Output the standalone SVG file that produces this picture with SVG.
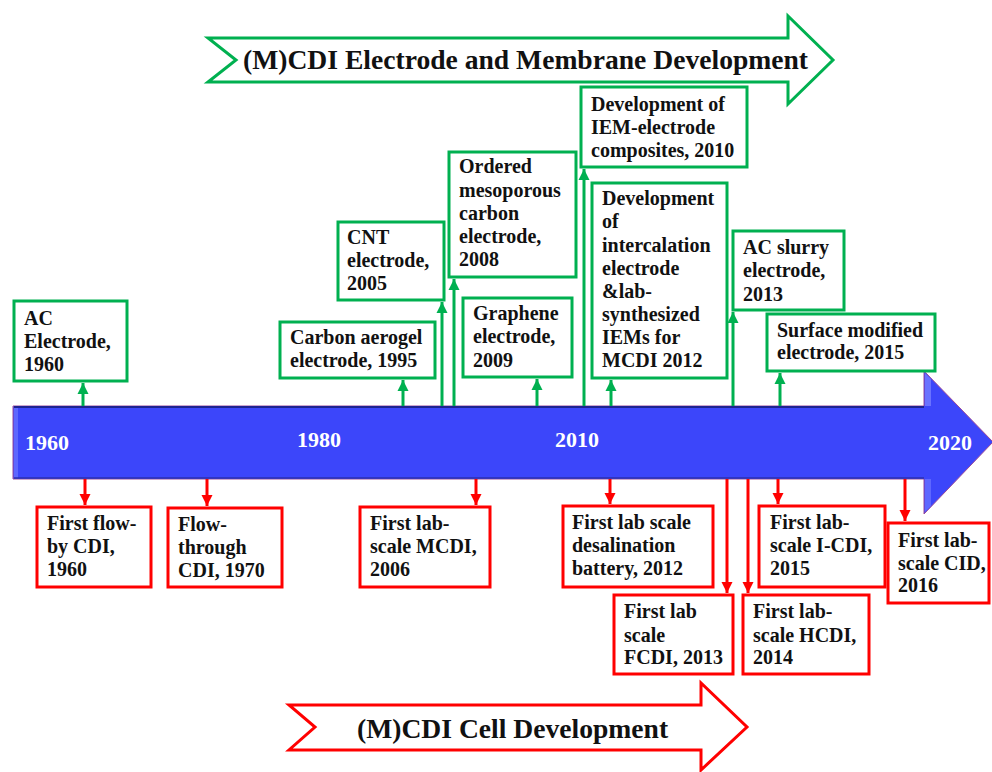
<svg xmlns="http://www.w3.org/2000/svg" width="992" height="772" viewBox="0 0 992 772">
<defs>
<style>
.t{font-family:"Liberation Serif","Times New Roman",serif;font-weight:bold;font-size:20px;fill:#111}
.yr{font-family:"Liberation Serif","Times New Roman",serif;font-weight:bold;font-size:22px;fill:#fff}
.ban{font-family:"Liberation Serif","Times New Roman",serif;font-weight:bold;font-size:27.6px;fill:#111}
.gb{fill:#fff;stroke:#00B050;stroke-width:3}
.rb{fill:#fff;stroke:#FF0000;stroke-width:3}
.gl{stroke:#00B050;stroke-width:3;fill:none;marker-end:url(#ga)}
.rl{stroke:#FF0000;stroke-width:3;fill:none;marker-end:url(#ra)}
</style>
<marker id="ga" markerUnits="userSpaceOnUse" markerWidth="12" markerHeight="12" refX="11" refY="6" orient="auto" viewBox="0 0 12 12"><path d="M0,0.5 L11,6 L0,11.5 z" fill="#00B050"/></marker>
<marker id="ra" markerUnits="userSpaceOnUse" markerWidth="12" markerHeight="12" refX="11" refY="6" orient="auto" viewBox="0 0 12 12"><path d="M0,0.5 L11,6 L0,11.5 z" fill="#FF0000"/></marker>
</defs>
<rect width="992" height="772" fill="#fff"/>

<g id="banner-top">
<polygon points="208,38 788,38 788,16 833,60 788,104 788,82 208,82 236,60" fill="#fff" stroke="#00B050" stroke-width="3"/>
<text class="ban" x="243" y="69">(M)CDI Electrode and Membrane Development</text>
</g>

<g id="banner-bottom">
<polygon points="289,705 701,705 701,683 747,727 701,770 701,750 289,750 315,727" fill="#fff" stroke="#FF0000" stroke-width="3"/>
<text class="ban" x="357" y="738">(M)CDI Cell Development</text>
</g>

<g id="timeline">
<polygon points="13,406 924,406 924,371 993,442 924,514 924,479 13,479" fill="#3C46FA" stroke="#9A4A9A" stroke-width="1"/>
<rect x="14" y="407" width="4" height="71" fill="#5E67FF"/>
<line x1="14" y1="407" x2="924" y2="407" stroke="#1E2490" stroke-width="2"/>
<line x1="14" y1="478" x2="924" y2="478" stroke="#2A30B0" stroke-width="1.5"/>
<polygon points="925,373 931,379 931,406 925,406" fill="#6A72FF"/>
<polygon points="925,479 931,479 931,506 925,512" fill="#5E67FF"/>
<text class="yr" x="25" y="450">1960</text>
<text class="yr" x="297" y="447">1980</text>
<text class="yr" x="555" y="447">2010</text>
<text class="yr" x="928" y="450">2020</text>
</g>

<g id="connectors">
<line class="gl" x1="83" y1="406" x2="83" y2="383"/>
<line class="gl" x1="403" y1="406" x2="403" y2="380"/>
<line class="gl" x1="442" y1="406" x2="442" y2="302"/>
<line class="gl" x1="454" y1="406" x2="454" y2="279"/>
<line class="gl" x1="537" y1="406" x2="537" y2="379"/>
<line class="gl" x1="584" y1="406" x2="584" y2="169"/>
<line class="gl" x1="611" y1="406" x2="611" y2="380"/>
<line class="gl" x1="733" y1="406" x2="733" y2="312"/>
<line class="gl" x1="780" y1="406" x2="780" y2="373"/>
<line class="rl" x1="85" y1="479" x2="85" y2="505"/>
<line class="rl" x1="207" y1="479" x2="207" y2="506"/>
<line class="rl" x1="476" y1="479" x2="476" y2="505"/>
<line class="rl" x1="610" y1="479" x2="610" y2="504"/>
<line class="rl" x1="727" y1="479" x2="727" y2="593"/>
<line class="rl" x1="748" y1="479" x2="748" y2="593"/>
<line class="rl" x1="778" y1="479" x2="778" y2="504"/>
<line class="rl" x1="905" y1="479" x2="905" y2="521"/>
</g>

<g id="g-ac-1960">
<rect class="gb" x="14" y="301" width="113" height="80"/>
<text class="t" x="24" y="325">AC</text>
<text class="t" x="24" y="348">Electrode,</text>
<text class="t" x="24" y="371">1960</text>
</g>
<g id="g-aerogel-1995">
<rect class="gb" x="280" y="322" width="155" height="56"/>
<text class="t" x="290" y="344">Carbon aerogel</text>
<text class="t" x="290" y="367">electrode, 1995</text>
</g>
<g id="g-cnt-2005">
<rect class="gb" x="338" y="222" width="106" height="78"/>
<text class="t" x="347" y="244">CNT</text>
<text class="t" x="347" y="267">electrode,</text>
<text class="t" x="347" y="290">2005</text>
</g>
<g id="g-omc-2008">
<rect class="gb" x="449" y="152" width="127" height="125"/>
<text class="t" x="459" y="173">Ordered</text>
<text class="t" x="459" y="197">mesoporous</text>
<text class="t" x="459" y="220">carbon</text>
<text class="t" x="459" y="243">electrode,</text>
<text class="t" x="459" y="266">2008</text>
</g>
<g id="g-graphene-2009">
<rect class="gb" x="463" y="298" width="109" height="79"/>
<text class="t" x="473" y="320">Graphene</text>
<text class="t" x="473" y="343">electrode,</text>
<text class="t" x="473" y="367">2009</text>
</g>
<g id="g-iem-2010">
<rect class="gb" x="581" y="87" width="166" height="80"/>
<text class="t" x="591" y="111">Development of</text>
<text class="t" x="591" y="134">IEM-electrode</text>
<text class="t" x="591" y="157">composites, 2010</text>
</g>
<g id="g-intercalation-2012">
<rect class="gb" x="592" y="183" width="135" height="195"/>
<text class="t" x="602" y="205">Development</text>
<text class="t" x="602" y="228">of</text>
<text class="t" x="602" y="252">intercalation</text>
<text class="t" x="602" y="275">electrode</text>
<text class="t" x="602" y="298">&amp;lab-</text>
<text class="t" x="602" y="321">synthesized</text>
<text class="t" x="602" y="344">IEMs for</text>
<text class="t" x="602" y="367">MCDI 2012</text>
</g>
<g id="g-slurry-2013">
<rect class="gb" x="733" y="231" width="111" height="79"/>
<text class="t" x="743" y="254">AC slurry</text>
<text class="t" x="743" y="277">electrode,</text>
<text class="t" x="743" y="301">2013</text>
</g>
<g id="g-surface-2015">
<rect class="gb" x="767" y="314" width="168" height="57"/>
<text class="t" x="777" y="337">Surface modified</text>
<text class="t" x="777" y="359">electrode, 2015</text>
</g>

<g id="r-flowby-1960">
<rect class="rb" x="37" y="507" width="114" height="80"/>
<text class="t" x="47" y="530">First flow-</text>
<text class="t" x="47" y="553">by CDI,</text>
<text class="t" x="47" y="576">1960</text>
</g>
<g id="r-flowthrough-1970">
<rect class="rb" x="168" y="508" width="114" height="79"/>
<text class="t" x="178" y="531">Flow-</text>
<text class="t" x="178" y="554">through</text>
<text class="t" x="178" y="577">CDI, 1970</text>
</g>
<g id="r-mcdi-2006">
<rect class="rb" x="360" y="507" width="130" height="80"/>
<text class="t" x="370" y="530">First lab-</text>
<text class="t" x="370" y="553">scale MCDI,</text>
<text class="t" x="370" y="576">2006</text>
</g>
<g id="r-battery-2012">
<rect class="rb" x="563" y="506" width="150" height="81"/>
<text class="t" x="572" y="529">First lab scale</text>
<text class="t" x="572" y="552">desalination</text>
<text class="t" x="572" y="575">battery, 2012</text>
</g>
<g id="r-fcdi-2013">
<rect class="rb" x="614" y="595" width="119" height="79"/>
<text class="t" x="624" y="618">First lab</text>
<text class="t" x="624" y="642">scale</text>
<text class="t" x="624" y="664">FCDI, 2013</text>
</g>
<g id="r-hcdi-2014">
<rect class="rb" x="743" y="595" width="126" height="79"/>
<text class="t" x="753" y="618">First lab-</text>
<text class="t" x="753" y="642">scale HCDI,</text>
<text class="t" x="753" y="664">2014</text>
</g>
<g id="r-icdi-2015">
<rect class="rb" x="759" y="506" width="126" height="81"/>
<text class="t" x="770" y="529">First lab-</text>
<text class="t" x="770" y="552">scale I-CDI,</text>
<text class="t" x="770" y="575">2015</text>
</g>
<g id="r-cid-2016">
<rect class="rb" x="888" y="523" width="101" height="80"/>
<text class="t" x="898" y="547">First lab-</text>
<text class="t" x="898" y="570">scale CID,</text>
<text class="t" x="898" y="592">2016</text>
</g>
</svg>
